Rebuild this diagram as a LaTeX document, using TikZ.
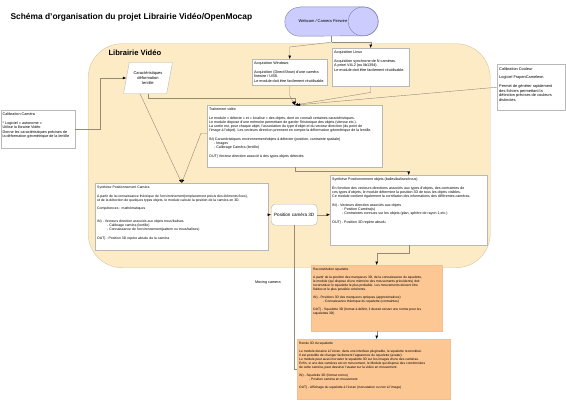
\documentclass[tikz,border=0pt]{standalone}
\usepackage{fontspec}
\setmainfont{Liberation Sans}
\usetikzlibrary{arrows.meta,positioning,shapes.geometric}

\definecolor{libfill}{HTML}{FDEBC6}
\definecolor{libdraw}{HTML}{D6C6A0}
\definecolor{camfill}{HTML}{CCCCFF}
\definecolor{camdraw}{HTML}{7F7FB2}
\definecolor{skelfill}{HTML}{FDC794}
\definecolor{boxdraw}{HTML}{B8B8B8}
\definecolor{linkgray}{HTML}{958A72}

\newcommand{\boxtext}[3]{\parbox[c][#2][t]{#1}{\raggedright\vspace*{1pt}#3}}
\newcommand{\gap}{\\[4.5pt]}
\newcommand{\ind}{\hspace*{5pt}}

\begin{document}
\begin{tikzpicture}[
		x=1pt, y=-1pt,
		every node/.style={font=\fontsize{3.6}{4.1}\selectfont},
		acqtext/.style={font=\fontsize{3.75}{4.2}\selectfont},
		smalltext/.style={font=\fontsize{3.3}{3.8}\selectfont},
		line/.style={draw=linkgray, line width=0.4pt},
		arrow/.style={line, -{Latex[length=3.4pt, width=2.8pt, color=black]}},
		descbox/.style={draw=boxdraw, fill=white, inner sep=2pt, anchor=north west},
		skelbox/.style={descbox, smalltext, draw=skelfill!80!black!20!skelfill, fill=skelfill},
	]
		\useasboundingbox (0,0) rectangle (566,400);

		\node (title) [anchor=west, font=\fontsize{8.4}{10}\selectfont\bfseries] at (7,17)
			{Schéma d'organisation du projet Librairie Vidéo/OpenMocap};

		% source video
		\node (cam) [minimum width=93pt, minimum height=29pt, inner sep=0pt] at (331.5,21.5) {};
		\draw[draw=camdraw, fill=camfill] ([xshift=15pt]cam.north west) -- ([xshift=-15pt]cam.north east)
			arc[start angle=90, end angle=-90, x radius=15pt, y radius=14.5pt]
			-- ([xshift=15pt]cam.south west)
			arc[start angle=270, end angle=90, x radius=15pt, y radius=14.5pt] -- cycle;
		\draw[camdraw] ([xshift=-15pt]cam.east) ellipse [x radius=15pt, y radius=14.5pt];
		\node (camlabel) [font=\fontsize{4}{5}\selectfont] at ([xshift=-8.5pt]cam.center)
			{Webcam / Camera Firewire};

		% librairie video
		\node (lib) [draw=libdraw, fill=libfill, rounded corners=34pt, anchor=north west,
			minimum width=402pt, minimum height=224pt] at (88,43.5) {};
		\node (libtitle) [below right=3pt and 17pt of lib.north west,
			font=\fontsize{7.6}{9}\selectfont\bfseries] {Librairie Vidéo};

		\node (param) [trapezium, trapezium left angle=70, trapezium right angle=110,
			trapezium stretches=true, draw=boxdraw, fill=white, align=center,
			minimum width=49pt, minimum height=31pt, inner sep=0pt,
			font=\fontsize{4}{4.6}\selectfont] at (148,78)
			{Caractéristiques\\déformation\\lentille};

		\node (acqwin) [descbox, acqtext] at (252,59) {\boxtext{71pt}{22pt}{%
			Acquisition Windows\gap
			Acquisition (DirectShow) d'une caméra\\
			firewire / USB.\\
			Le module doit être facilement réutilisable.}};

		\node (acqlin) [descbox, acqtext] at (332,48) {\boxtext{73pt}{34pt}{%
			Acquisition Linux\gap
			Acquisition synchrone de N caméras.\\
			A priori V4L2 (ou lib1394).\\
			Le module doit être facilement réutilisable.}};

		\node (calcoul) [descbox, font=\fontsize{3.9}{4.4}\selectfont] at (497,64)
			{\boxtext{64pt}{42pt}{%
			Calibration Couleur\gap
			Logiciel FrapenCameleon\gap
			Permet de générer rapidement\\
			des fichiers permettant la\\
			détection précises de couleurs\\
			distinctes.}};

		\node (calcam) [descbox, acqtext] at (0.5,110) {\boxtext{70pt}{34pt}{%
			Calibration Caméra\gap
			* Logiciel « autonome »\\
			* Utilise la librairie Vidéo\\
			* Donne les caractéristiques précises de\\
			la déformation géométrique de la lentille}};

		\node (trait) [descbox] at (207,105) {\boxtext{171pt}{58pt}{%
			Traitement vidéo\gap
			Le module « détecte » et « localise » des objets, dont on connaît certaines caractéristiques.\\
			Le module dispose d'une mémoire permettant de garder l'historique des objets (vitesse etc.).\\
			La sortie est, pour chaque objet, l'association du type d'objet et du vecteur direction (du point de\\
			l'image à l'objet). Les vecteurs direction prennent en compte la déformation géométrique de la lentille.\gap
			IN) Caractéristiques environnement/objets à détecter (position, contrainte spatiale)\\
			\ind- Images\\
			\ind- Calibrage Caméra (lentille)\gap
			OUT) Vecteur direction associé à des types objets détectés}};

		\node (synthcam) [descbox, font=\fontsize{3.45}{4}\selectfont] at (95,183)
			{\boxtext{169pt}{63pt}{%
			Synthèse Positionnement Caméra\gap
			A partir de la connaissance théorique de l'environnement(emplacement précis des éléments fixes),\\
			et de la détection de quelques types objets, le module calcule la position de la caméra en 3D.\gap
			Compétences : mathématiques\\[9pt]
			IN) - Vecteurs direction associés aux objets trous/balises\\
			\ind\ind- Calibrage caméra (lentille)\\
			\ind\ind- Connaissance de l'environnement(pattern ou trous/balises)\gap
			OUT) - Position 3D repère absolu de la caméra}};

		\node (pos3d) [draw=boxdraw, fill=white, rounded corners=4pt, anchor=north west,
			minimum width=46pt, minimum height=21pt, inner sep=1pt,
			font=\fontsize{4.6}{5.5}\selectfont] at (271,204) {Position caméra 3D};

		\node (synthobj) [descbox] at (330,175) {\boxtext{153pt}{66pt}{%
			Synthèse Positionnement objets (balles/balises/trous)\gap
			En fonction des vecteurs directions associés aux types d'objets, des contraintes de\\
			ces types d'objets, le module détermine la position 3D de tous les objets visibles.\\
			Ce module contient également la corrélation des informations des différentes caméras.\gap
			IN) - Vecteurs direction associés aux objets\\
			\ind\ind- Position Caméra(s)\\
			\ind\ind- Contraintes connues sur les objets (plan, sphère de rayon 1,etc.)\gap
			OUT) - Position 3D repère absolu}};

		% hors librairie
		\node (recon) [skelbox] at (311,265) {\boxtext{127pt}{62pt}{%
			Reconstitution squelette\gap
			A partir de la position des marqueurs 3D, de la connaissance du squelette,\\
			le module (qui dispose d'une mémoire des mouvements précédents) doit\\
			reconstituer le squelette le plus probable. Les mouvements doivent être\\
			fluides et le plus possible cohérents.\gap
			IN) - Positions 3D des marqueurs optiques (approximatives)\\
			\ind\ind- Connaissance théorique du squelette (contraintes)\gap
			OUT) - Squelette 3D (format à définir, il devrait exister une norme pour les\\
			squelettes 3D)}};

		\node (rendu) [skelbox] at (297,339) {\boxtext{149pt}{56pt}{%
			Rendu 3D du squelette\gap
			Le module dessine à l'écran, dans une interface pluginable, le squelette reconstitué.\\
			Il est possible de changer facilement l'apparence du squelette (avatar).\\
			Le module peut aussi incruster le squelette 3D sur les images d'une des caméras.\\
			Enfin, si une des caméras est en mouvement, le Module qui dispose des coordonnées\\
			de cette caméra, peut dessiner l'avatar sur la vidéo en mouvement.\gap
			IN) - Squelette 3D (format connu)\\
			\ind\ind- Position caméra en mouvement\gap
			OUT) - Affichage du squelette à l'écran (incrustation ou non à l'image)}};

		% connecteurs
		\coordinate (split) at ([yshift=-6pt]cam.south);
		\draw[line] (cam.south) -- (split);
		\draw[arrow] (split) -- ([yshift=12pt]acqwin.north) -- (acqwin.north);
		\draw[arrow] (split) -| (acqlin.north);

		\draw[arrow] (acqwin.south) -- ++(0,10) -- (trait.north);
		\draw[arrow] (acqlin.south) -- ++(0,6) -- (trait.north);
		\draw[arrow] (param.south) -- ++(0,4) -| (trait.north);
		\draw[arrow] (calcoul.west) -- ([xshift=2pt]trait.north);
		\draw[arrow] (calcam.east) -- ++(25,0) |- (param.west);

		\draw[arrow] ([xshift=-8pt]param.south) -- (synthcam.north);
		\draw[arrow] ([yshift=3pt]trait.west) -- ++(-6,0) -- (synthcam.north);
		\draw[arrow] (trait.south) -- ++(0,4) -| (synthobj.north);

		\draw[arrow] (synthcam.east |- pos3d.west) -- (pos3d.west);
		\draw[arrow] (pos3d.east) -- (pos3d.east -| synthobj.west);

		\draw[arrow] (synthobj.south) -- ++(0,8) -| (recon.north);
		\draw[arrow] (recon.south) -- (recon.south |- rendu.north);
		\draw[line] (pos3d.south) |- (rendu.west)
			node (moving) [pos=0.2, left=10pt, acqtext] {Moving camera};
	\end{tikzpicture}
\end{document}
